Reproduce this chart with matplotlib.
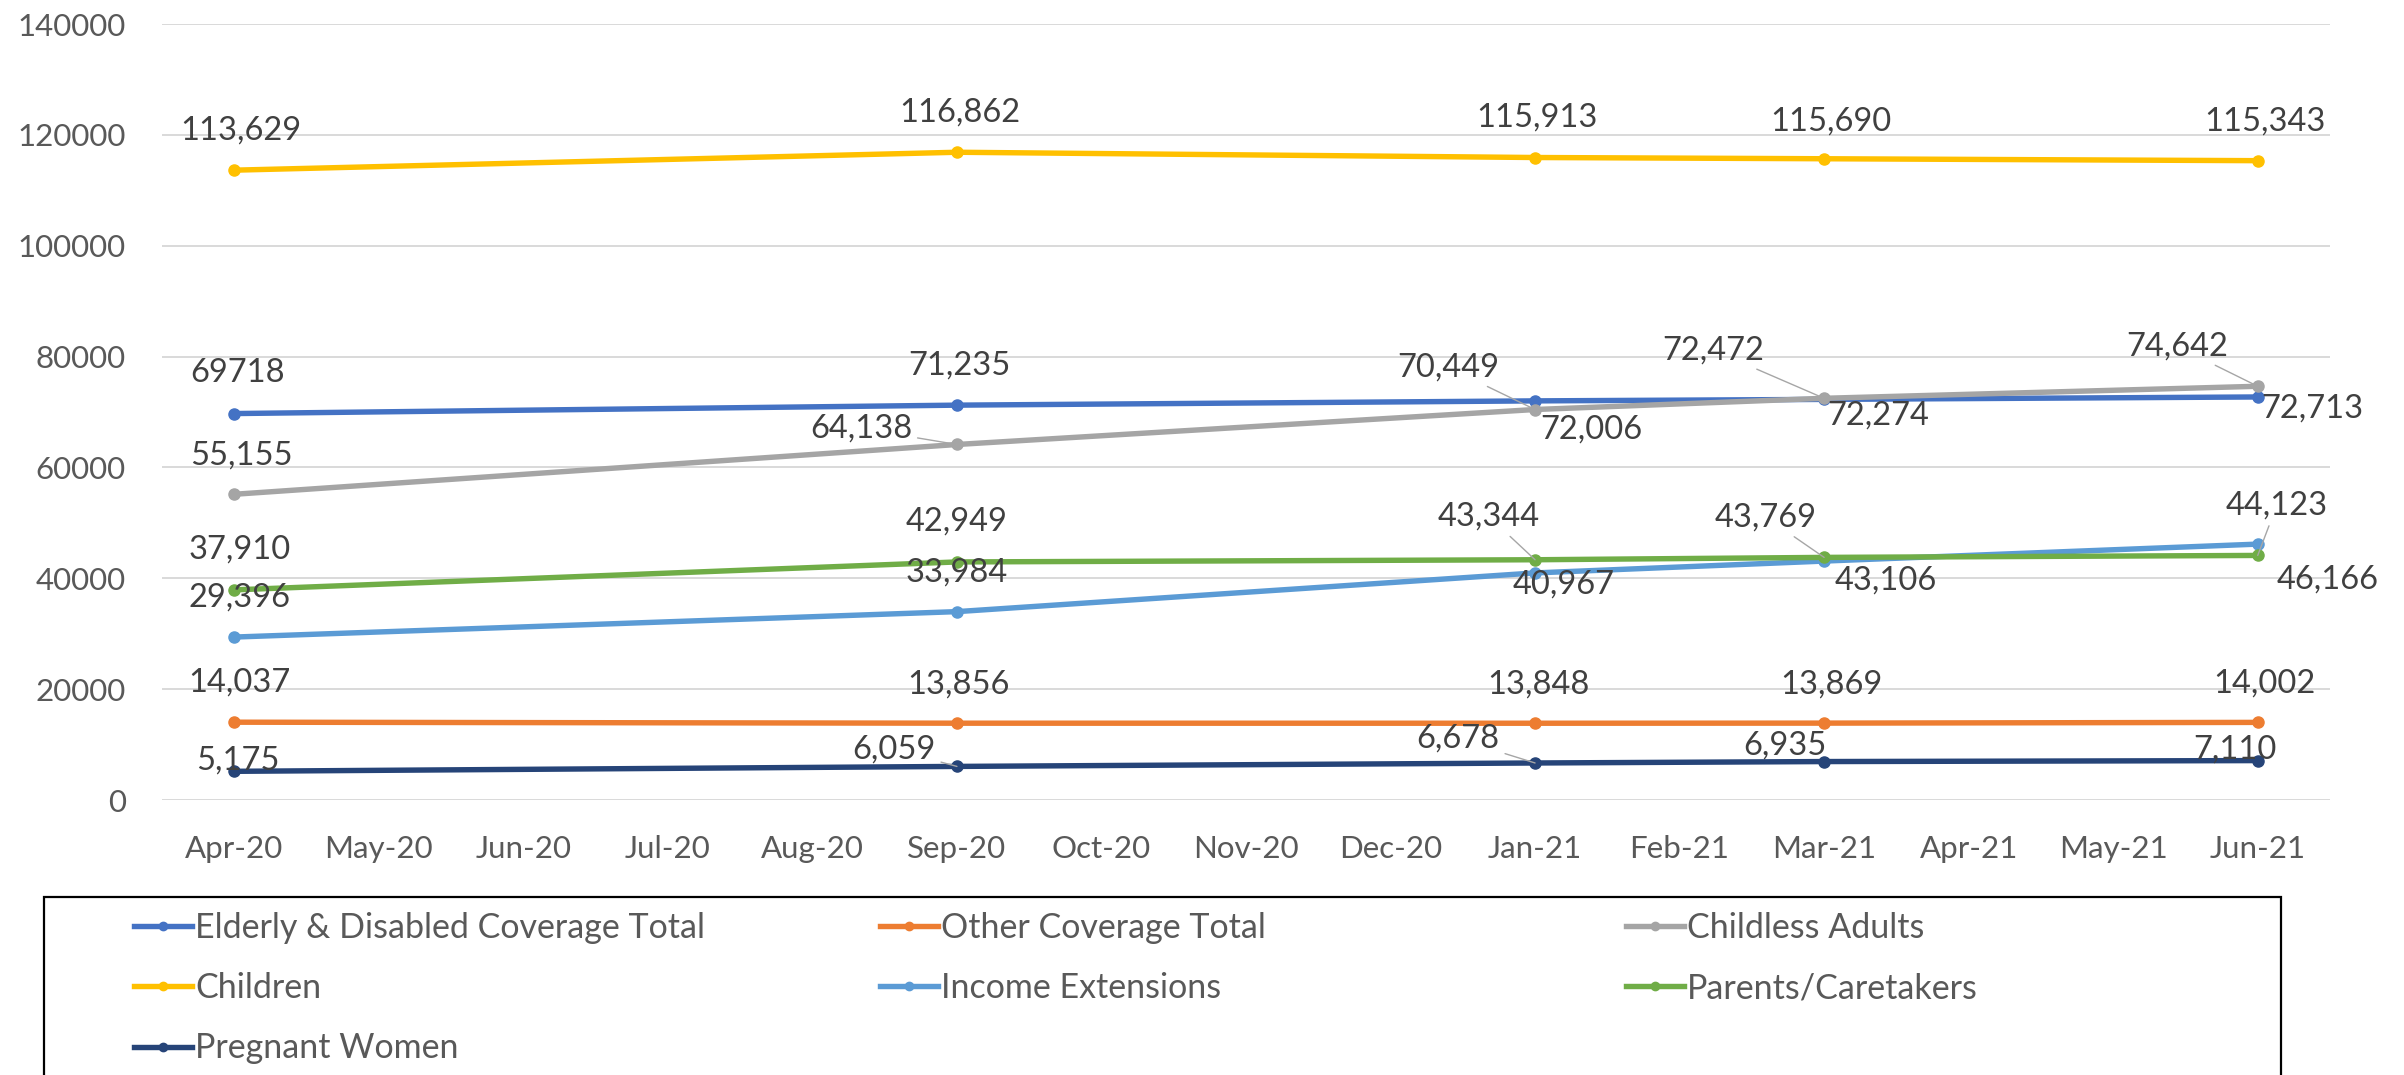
import matplotlib
matplotlib.use("Agg")
import matplotlib.pyplot as plt
from matplotlib.patches import Rectangle
from matplotlib.lines import Line2D

plt.rcParams['font.family'] = ['Lato', 'DejaVu Sans']

# ---- data ----
months = ["Apr-20", "May-20", "Jun-20", "Jul-20", "Aug-20", "Sep-20", "Oct-20", "Nov-20",
          "Dec-20", "Jan-21", "Feb-21", "Mar-21", "Apr-21", "May-21", "Jun-21"]
obs_months = ["Apr-20", "Sep-20", "Jan-21", "Mar-21", "Jun-21"]

elderly_disabled = [69718, 71235, 72006, 72274, 72713]
other_coverage = [14037, 13856, 13848, 13869, 14002]
childless_adults = [55155, 64138, 70449, 72472, 74642]
children = [113629, 116862, 115913, 115690, 115343]
income_extensions = [29396, 33984, 40967, 43106, 46166]
parents_caretakers = [37910, 42949, 43344, 43769, 44123]
pregnant_women = [5175, 6059, 6678, 6935, 7110]

series_names = ["Elderly & Disabled Coverage Total", "Other Coverage Total", "Childless Adults",
                "Children", "Income Extensions", "Parents/Caretakers", "Pregnant Women"]
series_values = [elderly_disabled, other_coverage, childless_adults, children,
                 income_extensions, parents_caretakers, pregnant_women]
# Label text as shown in the chart (first elderly label had no thousands separator)
label_texts = {
    "Elderly & Disabled Coverage Total": ["69718", "71,235", "72,006", "72,274", "72,713"],
}

# ---- styles ----
colors = ["#4472C4", "#ED7D31", "#A5A5A5", "#FFC000", "#5B9BD5", "#70AD47", "#264478"]
# label offsets in pixels (dx, dy; dy positive = downward), and whether a leader line is drawn
label_offsets = {
    "Elderly & Disabled Coverage Total": [(3, -41, False), (2, -40, False), (56, 29, False), (54, 16, False), (55, 12, False)],
    "Other Coverage Total": [(5, -40, False), (2, -39, False), (3, -39, False), (7, -39, False), (7, -39, False)],
    "Childless Adults": [(7, -39, False), (-96, -16, True), (-87, -42, True), (-111, -48, True), (-81, -40, True)],
    "Children": [(7, -40, False), (3, -40, False), (2, -40, False), (7, -37, False), (7, -39, False)],
    "Income Extensions": [(5, -40, False), (0, -39, False), (29, 12, False), (62, 19, False), (70, 35, False)],
    "Parents/Caretakers": [(5, -40, False), (0, -40, False), (-46, -43, True), (-58, -40, True), (19, -50, True)],
    "Pregnant Women": [(4, -11, False), (-63, -17, True), (-77, -24, True), (-39, -16, False), (-23, -11, False)],
}

W, H = 2404, 1075
DPI = 100
px2pt = 72.0 / DPI
FS = 22.5
FS_LAB = 23.5
FS_LEG = 24.5

fig = plt.figure(figsize=(W / DPI, H / DPI), dpi=DPI)
ax = fig.add_axes([162 / W, 1 - 800 / H, (2330 - 162) / W, (800 - 24) / H])

xpos = [months.index(m) for m in obs_months]
for name, vals, c in zip(series_names, series_values, colors):
    ax.plot(xpos, vals, color=c, lw=3.9, marker='o', markersize=8,
            solid_capstyle='round', label=name, zorder=3)
    texts = label_texts.get(name, [f"{v:,}" for v in vals])
    for i, (x, v) in enumerate(zip(xpos, vals)):
        dx, dy, leader = label_offsets[name][i]
        kw = {}
        if leader:
            kw['arrowprops'] = dict(arrowstyle='-', color='#A6A6A6', lw=1.0,
                                    shrinkA=2, shrinkB=0)
        ax.annotate(texts[i], xy=(x, v), xytext=(dx * px2pt, -dy * px2pt),
                    textcoords='offset points', ha='center', va='center',
                    fontsize=FS_LAB, color='#404040', zorder=5, **kw)

ax.set_xlim(-0.5, len(months) - 0.5)
ax.set_ylim(0, 140000)
ax.set_yticks(range(0, 140001, 20000))
ax.set_yticklabels([str(v) for v in range(0, 140001, 20000)])
ax.set_xticks(range(len(months)))
ax.set_xticklabels(months)
ax.grid(axis='y', color='#D9D9D9', lw=1.4, zorder=0)
ax.set_axisbelow(True)
for s in ax.spines.values():
    s.set_visible(False)
ax.tick_params(axis='both', length=0, labelsize=FS, labelcolor='#595959')
ax.tick_params(axis='y', pad=26)
ax.tick_params(axis='x', pad=25)

# ---- legend (3 equal-width columns, row-major order) ----
col_x = [134, 880, 1626]
columns = [[0, 3, 6], [1, 4], [2, 5]]
for cx, idxs in zip(col_x, columns):
    handles = [Line2D([], [], color=colors[i], lw=3.9, marker='o', markersize=6) for i in idxs]
    labels = [series_names[i] for i in idxs]
    fig.legend(handles, labels, loc='upper left', bbox_to_anchor=(cx / W, 1 - 912 / H),
               frameon=False, fontsize=FS_LEG, labelcolor='#595959', handlelength=1.7,
               handletextpad=0.1, borderpad=0, borderaxespad=0, labelspacing=0.83)

fig.add_artist(Rectangle((44 / W, -0.05), (2281 - 44) / W, (1075 - 897) / H + 0.05,
                         transform=fig.transFigure, fill=False, edgecolor='black', lw=1.6))

fig.savefig("out.png", dpi=DPI)
